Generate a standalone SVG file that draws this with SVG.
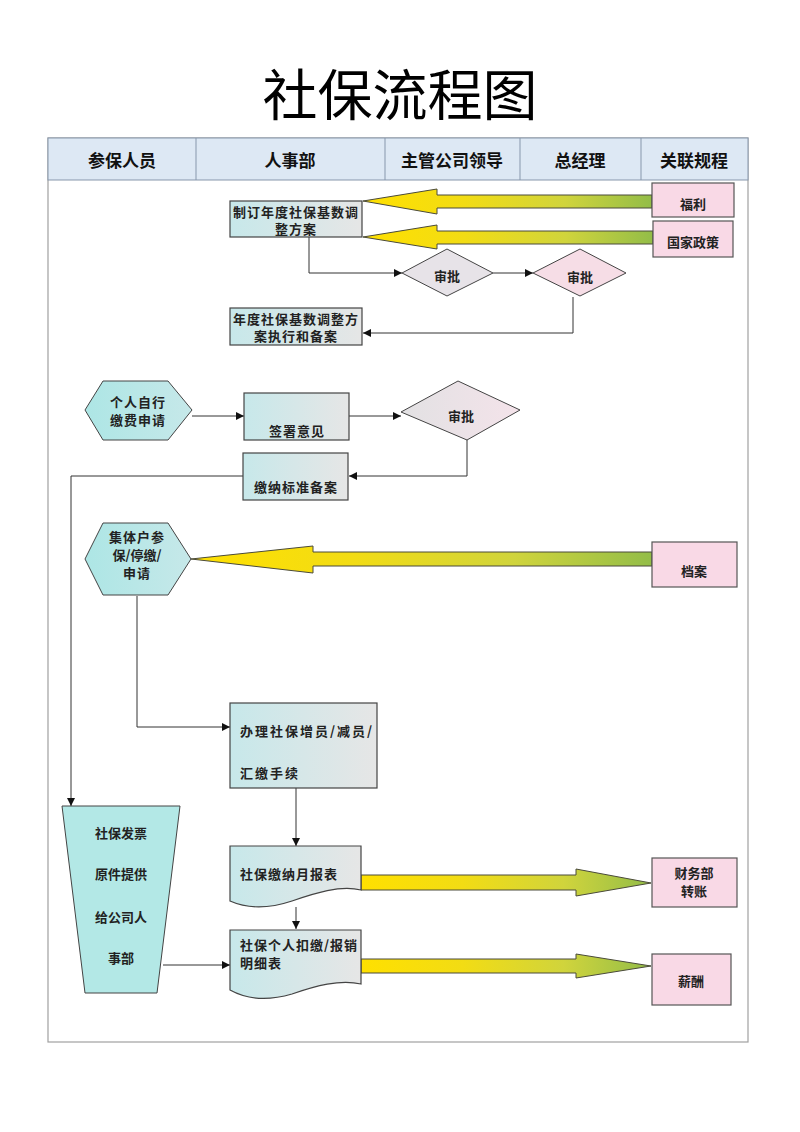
<svg xmlns="http://www.w3.org/2000/svg" width="800" height="1132" viewBox="0 0 800 1132">
<style>
.t{font-family:"Noto Sans CJK SC","Noto Sans",sans-serif;font-weight:700;font-size:13px;fill:#222;dominant-baseline:central}
.c{text-anchor:middle}
.h{font-family:"Noto Sans CJK SC","Noto Sans",sans-serif;font-weight:700;font-size:17px;fill:#111;text-anchor:middle;dominant-baseline:central}
.title{font-family:"Noto Sans CJK SC","Noto Sans",sans-serif;font-weight:400;font-size:55px;fill:#000;text-anchor:middle;dominant-baseline:central}
.box{fill:url(#gBox);stroke:#444;stroke-width:1.2}
.pink{fill:#f9d9e6;stroke:#555;stroke-width:1.2}
.hex{fill:url(#gHex);stroke:#444;stroke-width:1}
.big{fill:url(#gArrow);stroke:#4a4a3a;stroke-width:1}
.conn{fill:none;stroke:#333;stroke-width:1}
</style>
<defs>
<linearGradient id="gBox" x1="0" y1="0" x2="1" y2="0">
<stop offset="0" stop-color="#c7e8ea"/><stop offset="1" stop-color="#e6e6e6"/>
</linearGradient>
<linearGradient id="gHex" x1="0" y1="0" x2="1" y2="0">
<stop offset="0" stop-color="#ade6e5"/><stop offset="1" stop-color="#c6e8e9"/>
</linearGradient>
<linearGradient id="gDia" x1="0" y1="0" x2="1" y2="0">
<stop offset="0" stop-color="#e2e1e3"/><stop offset="1" stop-color="#f4e3ea"/>
</linearGradient>
<linearGradient id="gArrow" x1="0" y1="0" x2="1" y2="0">
<stop offset="0" stop-color="#ffe000"/><stop offset="0.35" stop-color="#f2dc14"/><stop offset="0.7" stop-color="#d0d43c"/><stop offset="1" stop-color="#93bd48"/>
</linearGradient>
<marker id="ah" viewBox="0 0 8 8" refX="8" refY="4" markerWidth="8" markerHeight="8" markerUnits="userSpaceOnUse" orient="auto">
<path d="M0,0 L8,4 L0,8 Z" fill="#111"/>
</marker>
</defs>
<rect width="800" height="1132" fill="#fff"/>
<text class="title" x="400" y="91">社保流程图</text>
<g id="frame">
<rect x="48" y="138" width="700" height="904" fill="none" stroke="#a0a0a0" stroke-width="1.2"/>
<rect x="48" y="138" width="700" height="42" fill="#dde8f4" stroke="#8797ac" stroke-width="1"/>
<line x1="196" y1="138" x2="196" y2="180" stroke="#8797ac"/>
<line x1="385" y1="138" x2="385" y2="180" stroke="#8797ac"/>
<line x1="520" y1="138" x2="520" y2="180" stroke="#8797ac"/>
<line x1="641" y1="138" x2="641" y2="180" stroke="#8797ac"/>
<text class="h" x="122" y="159">参保人员</text>
<text class="h" x="290" y="159">人事部</text>
<text class="h" x="452" y="159">主管公司领导</text>
<text class="h" x="580" y="159">总经理</text>
<text class="h" x="694" y="159">关联规程</text>
</g>
<g id="connectors">
<path class="conn" d="M309,237 V273 H402" marker-end="url(#ah)"/>
<path class="conn" d="M493,273 H533" marker-end="url(#ah)"/>
<path class="conn" d="M573,297 V333 H363" marker-end="url(#ah)"/>
<path class="conn" d="M192,416 H244" marker-end="url(#ah)"/>
<path class="conn" d="M349,416 H401" marker-end="url(#ah)"/>
<path class="conn" d="M467,440 V476 H349" marker-end="url(#ah)"/>
<path class="conn" d="M243,476 H71 V806" marker-end="url(#ah)"/>
<path class="conn" d="M137,596 V727 H230" marker-end="url(#ah)"/>
<path class="conn" d="M296,763 V846" marker-end="url(#ah)"/>
<path class="conn" d="M296,907 V929" marker-end="url(#ah)"/>
<path class="conn" d="M163,965 H230" marker-end="url(#ah)"/>
<polygon class="big" points="363,201 437,189 437,195 652,195 652,208 437,208 437,214"/>
<polygon class="big" points="363,237 437,225 437,231 653,231 653,244 437,244 437,249"/>
<polygon class="big" points="191,559 313,546 313,552 652,552 652,566 313,566 313,573"/>
<polygon class="big" points="361,875 576,875 576,869 651,883 576,896 576,890 361,890"/>
<polygon class="big" points="361,959 576,959 576,954 651,966 576,978 576,973 361,973"/>
</g>
<g id="n-zhiding">
<rect class="box" x="230" y="201" width="132" height="36"/>
<text class="t c" x="296" y="211" letter-spacing="1">制订年度社保基数调</text>
<text class="t c" x="296" y="228" letter-spacing="1">整方案</text>
</g>
<g id="n-fuli">
<rect class="pink" x="652" y="183" width="82" height="34"/>
<text class="t c" x="693" y="203">福利</text>
</g>
<g id="n-zhengce">
<rect class="pink" x="653" y="221" width="80" height="36"/>
<text class="t c" x="693" y="241">国家政策</text>
</g>
<g id="n-shenpi1">
<polygon points="402,273 447,249 493,273 447,296" fill="#e7e3e8" stroke="#444" stroke-width="1"/>
<text class="t c" x="447" y="275">审批</text>
</g>
<g id="n-shenpi2">
<polygon points="533,273 580,249 626,273 580,296" fill="#f6dde6" stroke="#444" stroke-width="1"/>
<text class="t c" x="580" y="276">审批</text>
</g>
<g id="n-zhixing">
<rect class="box" x="230" y="308" width="132" height="37"/>
<text class="t c" x="296" y="318" letter-spacing="1">年度社保基数调整方</text>
<text class="t c" x="296" y="335" letter-spacing="1">案执行和备案</text>
</g>
<g id="n-geren">
<polygon class="hex" points="85,410 103,381 168,381 192,410 168,440 103,440"/>
<text class="t c" x="138" y="401" letter-spacing="1">个人自行</text>
<text class="t c" x="138" y="419" letter-spacing="1">缴费申请</text>
</g>
<g id="n-qianshu">
<rect class="box" x="244" y="393" width="105" height="47"/>
<text class="t c" x="297" y="430" letter-spacing="1">签署意见</text>
</g>
<g id="n-shenpi3">
<polygon points="401,412 458,381 520,410 467,440" fill="url(#gDia)" stroke="#444" stroke-width="1"/>
<text class="t c" x="461" y="415">审批</text>
</g>
<g id="n-beian">
<rect class="box" x="243" y="453" width="105" height="47"/>
<text class="t c" x="296" y="486" letter-spacing="1">缴纳标准备案</text>
</g>
<g id="n-jiti">
<polygon class="hex" points="85,559 103,523 168,523 191,559 168,595 103,595"/>
<text class="t c" x="137" y="536" letter-spacing="1">集体户参</text>
<text class="t c" x="137" y="554">保/停缴/</text>
<text class="t c" x="137" y="572" letter-spacing="1">申请</text>
</g>
<g id="n-dangan">
<rect class="pink" x="652" y="542" width="85" height="45"/>
<text class="t c" x="694" y="570">档案</text>
</g>
<g id="n-banli">
<rect class="box" x="230" y="703" width="147" height="85"/>
<text class="t" x="240" y="730" letter-spacing="2">办理社保增员/减员/</text>
<text class="t" x="240" y="772" letter-spacing="2">汇缴手续</text>
</g>
<g id="n-fapiao">
<polygon points="62,806 180,806 157,993 85,993" fill="#b3e8e6" stroke="#444" stroke-width="1"/>
<text class="t c" x="121" y="832">社保发票</text>
<text class="t c" x="121" y="873">原件提供</text>
<text class="t c" x="121" y="916">给公司人</text>
<text class="t c" x="121" y="957">事部</text>
</g>
<g id="n-yuebao">
<path class="box" d="M230,846 H361 V890 C340,885 315,893 292,901 C268,909 248,909 230,901 Z"/>
<text class="t" x="240" y="873" letter-spacing="1">社保缴纳月报表</text>
</g>
<g id="n-mingxi">
<path class="box" d="M230,930 H361 V984 C340,979 315,986 292,994 C268,1001 248,1000 230,990 Z"/>
<text class="t" x="240" y="944" letter-spacing="1">社保个人扣缴/报销</text>
<text class="t" x="240" y="962" letter-spacing="1">明细表</text>
</g>
<g id="n-caiwu">
<rect class="pink" x="652" y="858" width="85" height="49"/>
<text class="t c" x="694" y="872">财务部</text>
<text class="t c" x="694" y="890">转账</text>
</g>
<g id="n-xinchou">
<rect class="pink" x="652" y="954" width="79" height="51"/>
<text class="t c" x="691" y="980">薪酬</text>
</g>
</svg>
